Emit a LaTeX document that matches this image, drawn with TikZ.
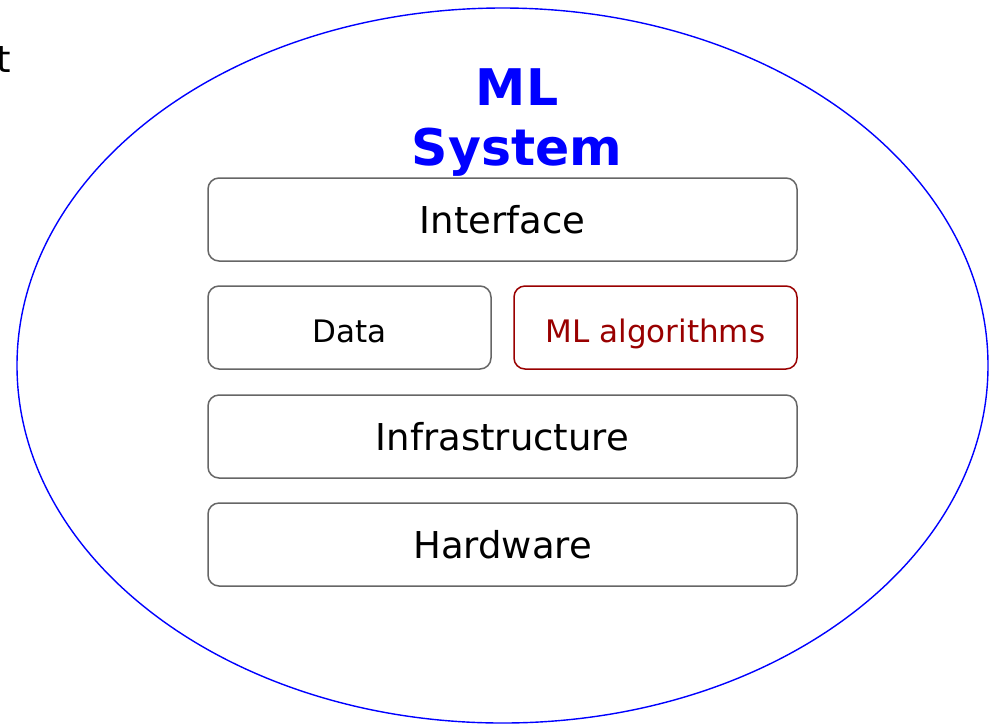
\documentclass[tikz,border=0pt]{standalone}
\usepackage{fontspec}
\setmainfont{DejaVu Sans}
\definecolor{boxgray}{HTML}{666666}
\definecolor{algred}{HTML}{990000}
\begin{document}
\begin{tikzpicture}[x=1pt,y=-1pt,
  layer/.style={draw=boxgray, line width=1.5pt, rounded corners=11pt, fill=white,
    minimum height=83pt, inner sep=0pt, font=\fontsize{37}{44}\selectfont},
  smalllayer/.style={layer, minimum width=283pt, text height=29pt, text depth=0pt,
    font=\fontsize{31}{37}\selectfont},
  widelayer/.style={layer, minimum width=589pt}]
\useasboundingbox (0,0) rectangle (995,724);
% outer system boundary
\draw[blue, line width=1.4pt] (502.5,365.5) ellipse [x radius=485.5pt, y radius=357.5pt];
% clipped leftover label at the top-left edge
\node[anchor=base east, inner sep=0pt, font=\fontsize{37}{44}\selectfont] (lefttext) at (11,72) {t};
% title
\node[align=center, text=blue, font=\fontsize{50.5}{60}\bfseries\selectfont] (title) at (517,123) {ML\\System};
% stack of layers
\node[widelayer] (interface) at (502.5,219.5) {Interface};
\node[smalllayer] (data) at (349.5,327.5) {Data};
\node[smalllayer, draw=algred, text=algred] (algo) at (655.5,327.5) {ML algorithms};
\node[widelayer] (infra) at (502.5,436.5) {Infrastructure};
\node[widelayer] (hardware) at (502.5,544.5) {Hardware};
\end{tikzpicture}
\end{document}
